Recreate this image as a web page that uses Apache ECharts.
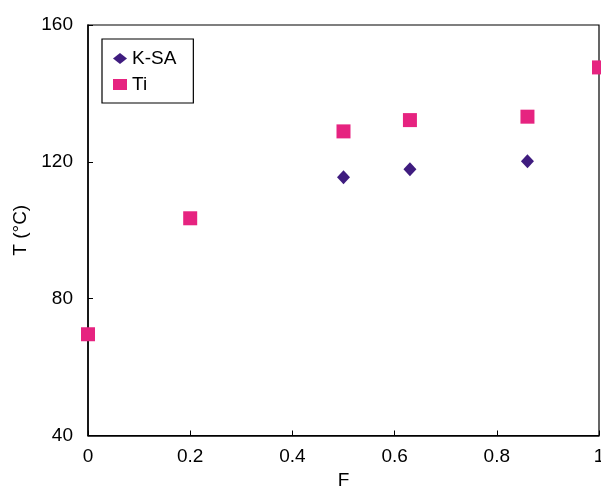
<!DOCTYPE html>
<html>
<head>
<meta charset="utf-8">
<script src="https://cdn.jsdelivr.net/npm/echarts@6/dist/echarts.min.js"></script>
<style>html,body{margin:0;padding:0;background:#fff;}#c{width:601px;height:489px;}</style>
</head>
<body>
<div id="c"></div>
<script>
const ksaF = [0.5, 0.63, 0.86];
const ksaT = [115.5, 117.8, 120.2];
const tiF = [0, 0.2, 0.5, 0.63, 0.86, 1];
const tiT = [69.6, 103.5, 128.9, 132.2, 133.2, 147.6];
const xTicks = [0, 0.2, 0.4, 0.6, 0.8, 1];
const yTicks = [40, 80, 120, 160];

const font = '"Liberation Sans", Arial, sans-serif';
const chart = echarts.init(document.getElementById('c'), null, {renderer: 'canvas'});
chart.setOption({
  animation: false,
  backgroundColor: '#fff',
  grid: {left: 88, right: 2, top: 25, bottom: 53.5, containLabel: false, outerBoundsMode: 'none',
    show: true, borderColor: '#000', borderWidth: 1.2, backgroundColor: 'transparent'},
  legend: {
    orient: 'vertical', left: 102, top: 39,
    borderColor: '#000', borderWidth: 1.2,
    padding: [10, 17, 9, 11],
    itemGap: 7, itemWidth: 14, itemHeight: 11,
    textStyle: {fontFamily: font, fontSize: 19, color: '#000'},
    data: ['K-SA', 'Ti']
  },
  xAxis: {
    type: 'value', min: 0, max: 1, interval: 0.2,
    name: 'F', nameLocation: 'middle', nameGap: 34,
    nameTextStyle: {fontFamily: font, fontSize: 19, color: '#000'},
    axisLine: {lineStyle: {color: '#000', width: 1.5}},
    axisTick: {inside: true, length: 5, lineStyle: {color: '#000'}},
    axisLabel: {fontFamily: font, fontSize: 19, color: '#000', margin: 12,
      formatter: v => xTicks.includes(+v.toFixed(1)) ? String(+v.toFixed(1)) : ''},
    splitLine: {show: false}
  },
  yAxis: {
    type: 'value', min: 40, max: 160, interval: 40,
    name: 'T (°C)', nameLocation: 'middle', nameGap: 57,
    nameTextStyle: {fontFamily: font, fontSize: 19, color: '#000'},
    axisLine: {lineStyle: {color: '#000', width: 1.5}},
    axisTick: {inside: true, length: 5, lineStyle: {color: '#000'}},
    axisLabel: {fontFamily: font, fontSize: 19, color: '#000', margin: 15,
      formatter: v => yTicks.includes(v) ? String(v) : ''},
    splitLine: {show: false}
  },
  series: [
    {name: 'K-SA', type: 'scatter', symbol: 'diamond', symbolSize: [13, 14], clip: false,
     itemStyle: {color: '#3F1C7F', opacity: 1},
     data: ksaF.map((f, i) => [f, ksaT[i]])},
    {name: 'Ti', type: 'scatter', symbol: 'rect', symbolSize: 14, clip: false,
     itemStyle: {color: '#E62380', opacity: 1},
     data: tiF.map((f, i) => [f, tiT[i]])}
  ]
});
</script>
</body>
</html>
